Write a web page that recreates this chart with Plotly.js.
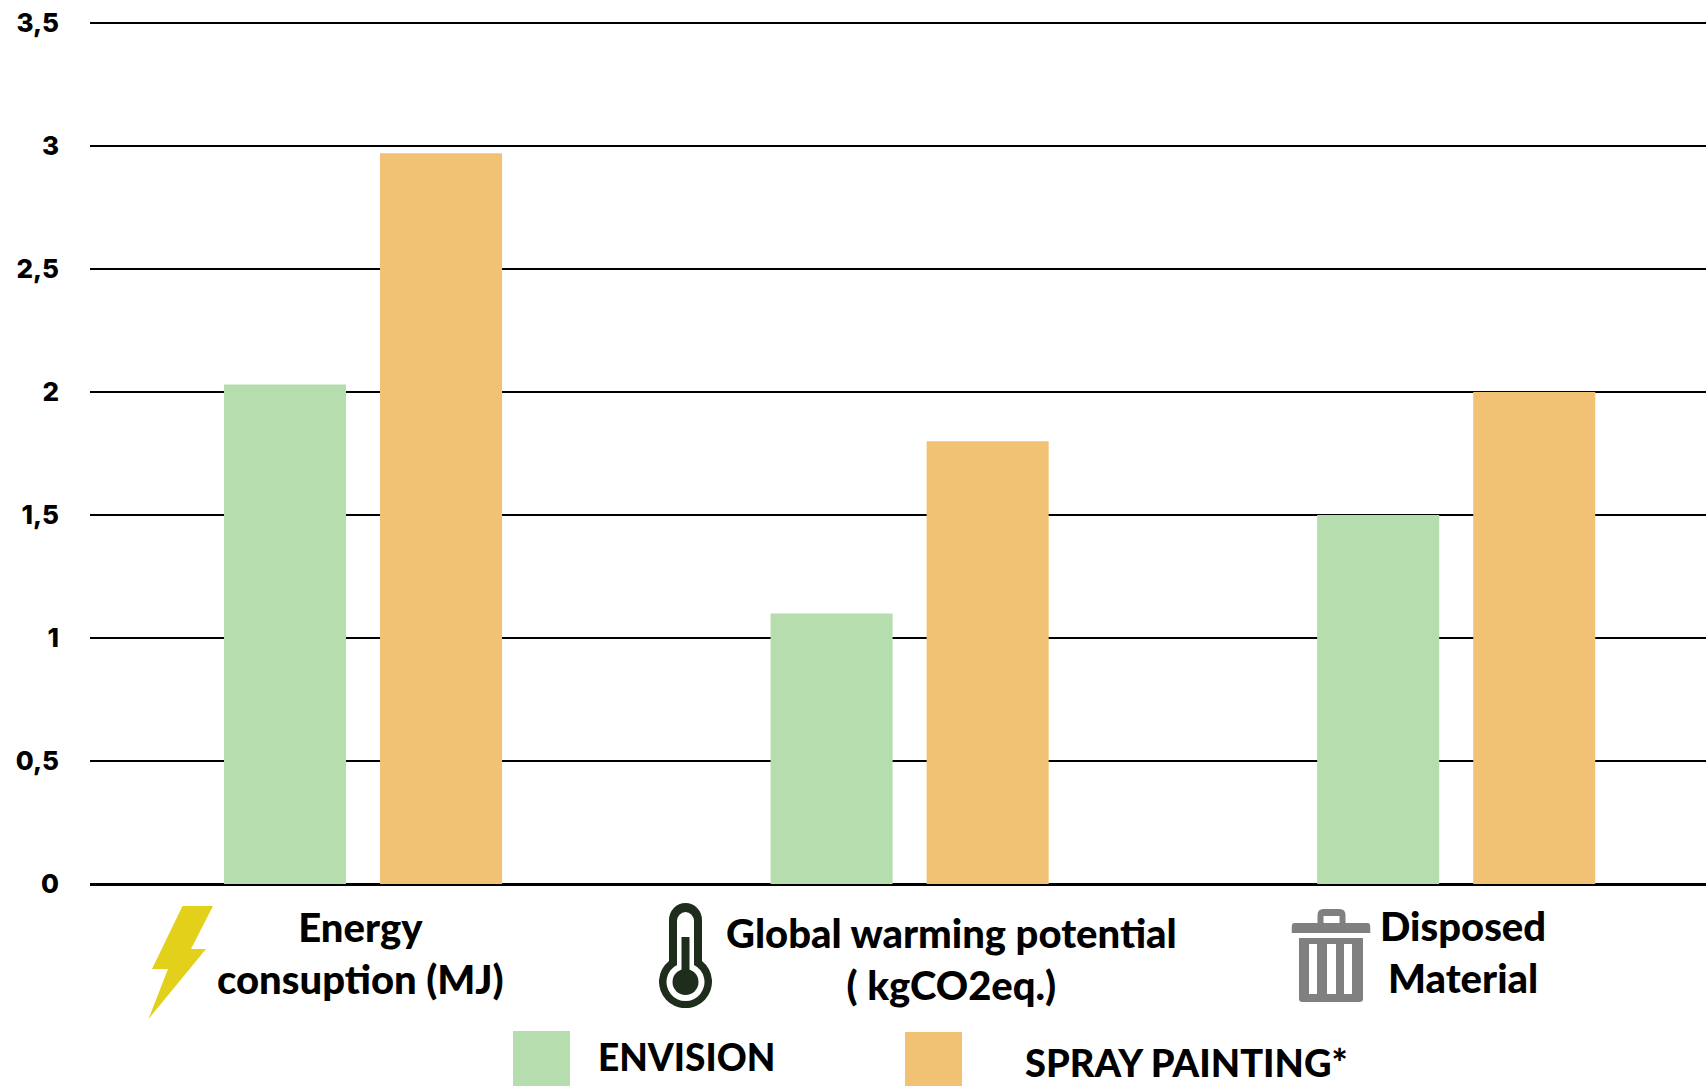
<!DOCTYPE html>
<html>
<head>
<meta charset="utf-8">
<script src="https://cdn.plot.ly/plotly-3.0.1.min.js"></script>
<style>html,body{margin:0;padding:0;background:#fff;overflow:hidden}#chart{width:1706px;height:1086px}</style>
</head>
<body>
<div id="chart"></div>
<script>
var categories = ["Energy consuption (MJ)", "Global warming potential ( kgCO2eq.)", "Disposed Material"];
var categoryLabels = ["Energy<br>consuption (MJ)", "Global warming potential<br>( kgCO2eq.)", "Disposed<br>Material"];
var seriesNames = ["ENVISION", "SPRAY PAINTING*"];
var envision = [2.03, 1.10, 1.50];
var sprayPainting = [2.97, 1.80, 2.00];
var yTicks = [0, 0.5, 1, 1.5, 2, 2.5, 3, 3.5];
var GREEN = "#B6DDAD", ORANGE = "#F2C274";

var W = 1706, H = 1086, L = 90, T = 18, B = 884;
function px(x){ return (x - L) / (W - L); }
function py(y){ return (B - y) / (B - T); }
function svgUri(w, h, body){
  return "data:image/svg+xml;utf8," + encodeURIComponent(
    '<svg xmlns="http://www.w3.org/2000/svg" width="'+w+'" height="'+h+'" viewBox="0 0 '+w+' '+h+'">'+body+'</svg>');
}
function icon(x0, y0, w, h, body){
  return {source: svgUri(w, h, body), xref:"paper", yref:"paper", x:px(x0), y:py(y0),
          sizex:w/(W-L), sizey:h/(B-T), xanchor:"left", yanchor:"top", sizing:"stretch", layer:"above"};
}
var bolt = '<path fill="#E3D01A" d="M34.5 0 L65 0 L43 43 L58 43 L0.5 113 L20 63 L4 63 Z"/>';
var thermo = '<g fill="#1E2D1C"><path fill-rule="evenodd" d="M10 17 A16.5 17 0 0 1 43 17 L43 58 A26.5 26.5 0 1 1 10 58 Z M18 18 L18 62 A19 19 0 1 0 35 62 L35 18 A8.5 9 0 0 0 18 18 Z"/><rect x="22.5" y="34" width="8" height="36"/><circle cx="26.5" cy="79" r="13"/></g>';
var trash = '<g fill="#808080"><path fill-rule="evenodd" d="M26 14 L26 6 Q26 0 32 0 L48 0 Q54 0 54 6 L54 14 L76 14 Q79 14 79 19 L79 24 L0 24 L0 19 Q0 14 3 14 Z M32 14 L48 14 L48 7 L32 7 Z"/><path fill-rule="evenodd" d="M7.5 29 L71.5 29 L71.5 90 Q71.5 93 68 93 L11 93 Q7.5 93 7.5 90 Z M17.5 35 L17.5 85 L25.5 85 L25.5 35 Z M35.5 35 L35.5 85 L44.5 85 L44.5 35 Z M52.5 35 L52.5 85 L60.5 85 L60.5 35 Z"/></g>';

var labelFont = {family:"Lato, 'Open Sans', sans-serif", size:40, color:"#000", weight:900};
var legendFontA = {family:"Lato, 'Open Sans', sans-serif", size:37, color:"#000", weight:900};
var legendFontB = {family:"Lato, 'Open Sans', sans-serif", size:38, color:"#000", weight:900};
var traces = [
  {type:"bar", name:seriesNames[0], x:categories, y:envision, marker:{color:GREEN, line:{width:0}}, hoverinfo:"x+y+name"},
  {type:"bar", name:seriesNames[1], x:categories, y:sprayPainting, marker:{color:ORANGE, line:{width:0}}, hoverinfo:"x+y+name"}
];
var layout = {
  width:W, height:H, autosize:false,
  margin:{l:L, r:0, t:T, b:H-B, pad:0},
  paper_bgcolor:"#fff", plot_bgcolor:"#fff",
  separators:",.",
  barmode:"group", bargap:0.429, bargroupgap:0.218,
  showlegend:false,
  font:{family:"Inter, sans-serif"},
  xaxis:{type:"category", categoryorder:"array", categoryarray:categories, range:[-0.4995,2.457],
         showgrid:false, showticklabels:false, ticks:"", zeroline:false, showline:false, fixedrange:true},
  yaxis:{range:[0,3.52], tickmode:"array", tickvals:yTicks, showgrid:true, gridcolor:"#000", gridwidth:2,
         zeroline:true, zerolinecolor:"#000", zerolinewidth:3, showline:false, ticks:"",
         ticklabelstandoff:30, tickfont:{family:"Inter, sans-serif", size:26, color:"#000", weight:800}, fixedrange:true},
  images:[ icon(148,906,66,113,bolt), icon(659,903,53,105,thermo), icon(1291.5,909,79,93,trash) ],
  shapes:[
    {type:"rect", xref:"paper", yref:"paper", x0:px(513), x1:px(570), y0:py(1031), y1:py(1086), fillcolor:GREEN, line:{width:0}},
    {type:"rect", xref:"paper", yref:"paper", x0:px(905), x1:px(962), y0:py(1032), y1:py(1086), fillcolor:ORANGE, line:{width:0}}
  ],
  annotations:[
    {xref:"x", yref:"paper", x:0, xshift:-3, y:py(953), text:categoryLabels[0], showarrow:false, font:labelFont, align:"center", xanchor:"center", yanchor:"middle"},
    {xref:"x", yref:"paper", x:1, xshift:42, y:py(959), text:categoryLabels[1], showarrow:false, font:labelFont, align:"center", xanchor:"center", yanchor:"middle"},
    {xref:"x", yref:"paper", x:2, xshift:7, y:py(951.5), text:categoryLabels[2], showarrow:false, font:labelFont, align:"center", xanchor:"center", yanchor:"middle"},
    {xref:"paper", yref:"paper", x:px(596), y:py(1056), text:seriesNames[0], showarrow:false, font:legendFontA, xanchor:"left", yanchor:"middle"},
    {xref:"paper", yref:"paper", x:px(1023), y:py(1062), text:seriesNames[1], showarrow:false, font:legendFontB, xanchor:"left", yanchor:"middle"}
  ]
};
Plotly.newPlot("chart", traces, layout, {staticPlot:true, displayModeBar:false});
</script>
</body>
</html>
